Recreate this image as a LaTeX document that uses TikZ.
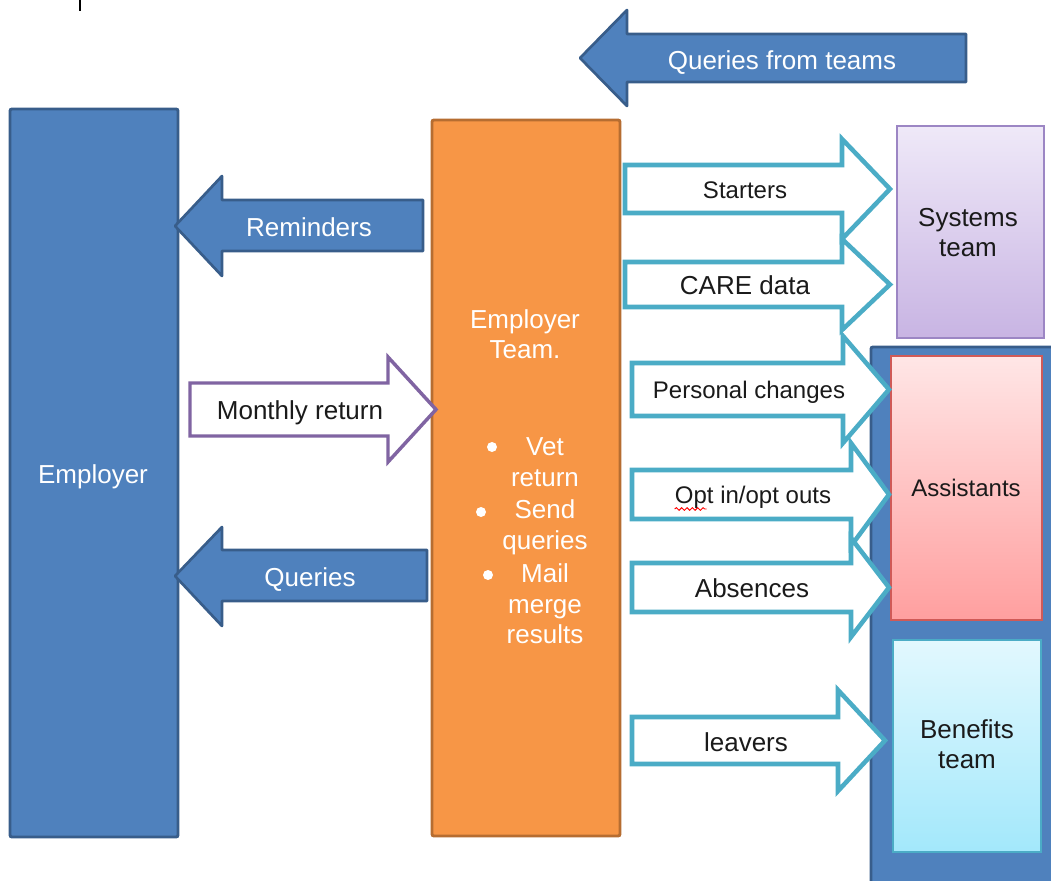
\documentclass[tikz,border=0pt]{standalone}
\usepackage{fontspec}
\setmainfont{Liberation Sans}
\usetikzlibrary{decorations.pathmorphing}
\definecolor{blueF}{HTML}{4F81BD}
\definecolor{blueD}{HTML}{385D8A}
\definecolor{orangeF}{HTML}{F79646}
\definecolor{orangeD}{HTML}{B66D31}
\definecolor{tealC}{HTML}{4BACC6}
\definecolor{purpC}{HTML}{8064A2}
\definecolor{sysTop}{HTML}{EFE9F8}
\definecolor{sysBot}{HTML}{C8B4E3}
\definecolor{sysD}{HTML}{9C86C4}
\definecolor{asTop}{HTML}{FFE6E6}
\definecolor{asBot}{HTML}{FF9F9F}
\definecolor{asD}{HTML}{D05A57}
\definecolor{beTop}{HTML}{E2F8FE}
\definecolor{beBot}{HTML}{A3E8FB}
\definecolor{txt}{HTML}{1A1A1A}
\begin{document}
\begin{tikzpicture}[x=0.75pt,y=-0.75pt,
  bluebox/.style={fill=blueF,draw=blueD,line width=2.2pt,rounded corners=1.5pt},
  bluearrow/.style={fill=blueF,draw=blueD,line width=2pt,line join=round},
  tealarrow/.style={fill=white,draw=tealC,line width=3.4pt,line join=miter},
  purparrow/.style={fill=white,draw=purpC,line width=2.6pt,line join=miter},
  big/.style={font=\fontsize{19.5}{22.5}\selectfont,inner sep=0pt,anchor=base},
  small/.style={font=\fontsize{18}{21}\selectfont,inner sep=0pt,anchor=base},
  wtxt/.style={text=white},
  btxt/.style={text=txt},
  bulletdot/.style={circle,fill=white,inner sep=0pt,minimum size=7.5pt}
]
\useasboundingbox (0,0) rectangle (1051,881);
\clip (0,0) rectangle (1051,881);

% stray cursor mark
\coordinate (c1) at (80,0);
\coordinate (c2) at (80,11);
\draw[line width=1pt,black] (c1) -- (c2);

% Employer
\draw[bluebox] (10,109) rectangle (178,837);
\node[big,wtxt] (employer) at (93,483) {Employer};

% Employer team
\draw[fill=orangeF,draw=orangeD,line width=2.2pt,rounded corners=1.5pt] (432,120) rectangle (620,836);
\node[big,wtxt] (et1) at (525,328) {Employer};
\node[big,wtxt] (et2) at (525,358) {Team.};
\node[big,wtxt] (v1) at (545,455) {Vet};
\node[big,wtxt] (v2) at (545,486) {return};
\node[big,wtxt] (s1) at (545,518) {Send};
\node[big,wtxt] (s2) at (545,549) {queries};
\node[big,wtxt] (m1) at (545,582) {Mail};
\node[big,wtxt] (m2) at (545,613) {merge};
\node[big,wtxt] (m3) at (545,643) {results};
\node[bulletdot] (b1) at (492,447) {};
\node[bulletdot] (b2) at (481,512) {};
\node[bulletdot] (b3) at (488,575) {};

% Systems team
\shade[top color=sysTop,bottom color=sysBot] (897,126) rectangle (1044,338);
\draw[draw=sysD,line width=1.5pt] (897,126) rectangle (1044,338);
\node[big,btxt] (sys1) at (968,227) {Systems};
\node[big,btxt] (sys2) at (968,256) {team};

% blue container
\draw[bluebox] (871,347) rectangle (1053,895);

% Assistants
\shade[top color=asTop,bottom color=asBot] (891,356) rectangle (1042,620);
\draw[draw=asD,line width=1.5pt] (891,356) rectangle (1042,620);
\node[small,btxt] (assist) at (966,496) {Assistants};

% Benefits
\shade[top color=beTop,bottom color=beBot] (893,640) rectangle (1041,852);
\draw[draw=tealC,line width=1.5pt] (893,640) rectangle (1041,852);
\node[big,btxt] (ben1) at (967,738) {Benefits};
\node[big,btxt] (ben2) at (967,768) {team};

% Blue left arrows
\draw[bluearrow] (966,34) -- (627,34) -- (627,10) -- (580,58) -- (627,106) -- (627,82) -- (966,82) -- cycle;
\node[big,wtxt] (qft) at (782,70) {Queries from teams};

\draw[bluearrow] (423,200) -- (222,200) -- (222,176) -- (175,226) -- (222,276) -- (222,251) -- (423,251) -- cycle;
\node[big,wtxt] (rem) at (309,236) {Reminders};

\draw[bluearrow] (427,550) -- (222,550) -- (222,527) -- (175,576) -- (222,626) -- (222,601) -- (427,601) -- cycle;
\node[big,wtxt] (que) at (310,586) {Queries};

% Monthly return
\draw[purparrow] (190,383) -- (388,383) -- (388,357) -- (436,409.5) -- (388,462) -- (388,436) -- (190,436) -- cycle;
\node[big,btxt] (mon) at (300,419) {Monthly return};

% Teal arrows
\draw[tealarrow] (625,165) -- (842,165) -- (842,139) -- (890,189) -- (842,239) -- (842,213) -- (625,213) -- cycle;
\node[small,btxt] (sta) at (745,199) {Starters};

\draw[tealarrow] (625,262) -- (842,262) -- (842,239) -- (890,284.5) -- (842,330) -- (842,307) -- (625,307) -- cycle;
\node[big,btxt] (care) at (745,294) {CARE data};

\draw[tealarrow] (632,363) -- (843,363) -- (843,336) -- (889,389.5) -- (843,443) -- (843,416) -- (632,416) -- cycle;
\node[small,btxt] (pc) at (749,398) {Personal changes};

\draw[tealarrow] (632,470) -- (851,470) -- (851,443) -- (889,494.5) -- (851,546) -- (851,519) -- (632,519) -- cycle;
\node[small,btxt] (opt) at (753,503) {Opt in/opt outs};
\draw[red,line width=0.7pt,decorate,decoration={snake,amplitude=1pt,segment length=4pt}] ([yshift=-4.5pt]opt.base west) -- ++(32,0);

\draw[tealarrow] (632,563) -- (851,563) -- (851,538) -- (889,587.5) -- (851,637) -- (851,612) -- (632,612) -- cycle;
\node[big,btxt] (abs) at (752,597) {Absences};

\draw[tealarrow] (632,717) -- (838,717) -- (838,690) -- (885,740.5) -- (838,791) -- (838,764) -- (632,764) -- cycle;
\node[big,btxt] (lea) at (746,751) {leavers};
\end{tikzpicture}
\end{document}
